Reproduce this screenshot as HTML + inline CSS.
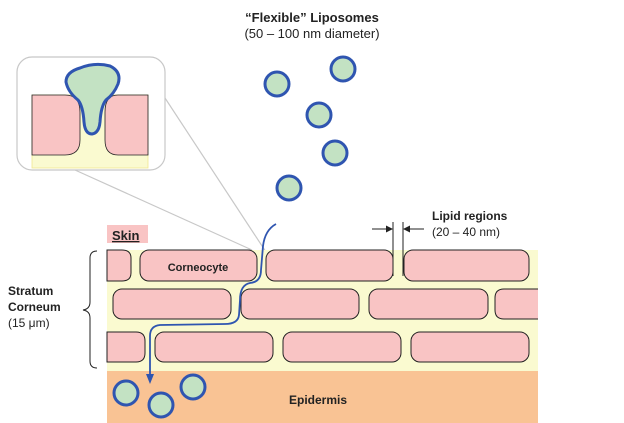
<!DOCTYPE html>
<html><head><style>
body{margin:0;background:#fff}
svg{display:block}
text{font-family:"Liberation Sans",Arial,sans-serif;fill:#222}
</style></head><body>
<svg width="624" height="423" viewBox="0 0 624 423" xmlns="http://www.w3.org/2000/svg">
<defs>
<g id="lip"><circle r="12" fill="#c3e2c3" stroke="#2f55b0" stroke-width="3"/></g>
</defs>
<text x="312" y="22" font-size="13" font-weight="bold" text-anchor="middle">“Flexible” Liposomes</text>
<text x="312" y="38" font-size="13" text-anchor="middle">(50 – 100 nm diameter)</text>
<!-- gray zoom lines -->
<line x1="165" y1="98" x2="266" y2="252" stroke="#c8c8c8" stroke-width="1.2"/>
<line x1="75" y1="170" x2="252" y2="250" stroke="#c8c8c8" stroke-width="1.2"/>
<!-- inset -->
<rect x="17" y="57" width="148" height="113" rx="15" fill="#fff" stroke="#c8c8c8" stroke-width="1.2"/>
<rect x="32" y="95" width="116" height="73" fill="#fafad0" stroke="#f0e890" stroke-width="0.8"/>
<path d="M32 95 H65 Q80 95 80 112 V140 Q80 155 65 155 H32 Z" fill="#f9c4c4" stroke="#222" stroke-width="0.8"/>
<path d="M148 95 H118 Q105 95 105 112 V140 Q105 155 118 155 H148 Z" fill="#f9c4c4" stroke="#222" stroke-width="0.8"/>
<path d="M80 68 Q95 62 110 66 Q122 72 118 84 Q114 94 106 100 Q101 106 100 122 Q99 133 92 134 Q85 134 84 122 Q83 106 78 100 Q68 92 66 82 Q66 72 80 68 Z" fill="#c3e2c3" stroke="#2f55b0" stroke-width="3"/>
<!-- liposomes -->
<use href="#lip" x="277" y="84"/>
<use href="#lip" x="343" y="69"/>
<use href="#lip" x="319" y="115"/>
<use href="#lip" x="335" y="153"/>
<use href="#lip" x="289" y="188"/>
<!-- stratum corneum -->
<rect x="107" y="250" width="431" height="121" fill="#fafad0"/>
<rect x="107" y="371" width="431" height="52" fill="#f9c394"/>
<g fill="#f9c4c4" stroke="#222" stroke-width="1">
<path d="M107 250 H122 Q131 250 131 258 V273 Q131 281 122 281 H107 Z"/>
<rect x="140" y="250" width="117" height="31" rx="9"/>
<rect x="266" y="250" width="127" height="31" rx="9"/>
<rect x="404" y="250" width="125" height="31" rx="9"/>
<rect x="113" y="289" width="118" height="30" rx="9"/>
<rect x="241" y="289" width="118" height="30" rx="9"/>
<rect x="369" y="289" width="119" height="30" rx="9"/>
<path d="M538 289 H504 Q495 289 495 298 V310 Q495 319 504 319 H538"/>
<path d="M107 332 H136 Q145 332 145 341 V353 Q145 362 136 362 H107 Z"/>
<rect x="155" y="332" width="118" height="30" rx="9"/>
<rect x="283" y="332" width="118" height="30" rx="9"/>
<rect x="411" y="332" width="118" height="30" rx="9"/>
</g>
<text x="198" y="271" font-size="11" font-weight="bold" text-anchor="middle">Corneocyte</text>
<text x="318" y="404" font-size="12" font-weight="bold" text-anchor="middle">Epidermis</text>
<rect x="107" y="225" width="41" height="18" fill="#f9c4c4"/>
<text x="112" y="240" font-size="13" font-weight="bold" text-decoration="underline">Skin</text>
<!-- lipid arrows -->
<line x1="393" y1="222" x2="393" y2="276" stroke="#222" stroke-width="1"/>
<line x1="403" y1="222" x2="403" y2="276" stroke="#222" stroke-width="1"/>
<line x1="372" y1="229" x2="389" y2="229" stroke="#222" stroke-width="1"/>
<path d="M393 229 L386 225.5 L386 232.5 Z" fill="#222"/>
<line x1="407" y1="229" x2="424" y2="229" stroke="#222" stroke-width="1"/>
<path d="M403 229 L410 225.5 L410 232.5 Z" fill="#222"/>
<text x="432" y="220" font-size="12" font-weight="bold">Lipid regions</text>
<text x="432" y="236" font-size="12">(20 – 40 nm)</text>
<!-- brace -->
<path d="M97 251 Q90 251 90 258 V302 Q90 309 83 310 Q90 311 90 318 V361 Q90 368 97 368" fill="none" stroke="#222" stroke-width="1"/>
<text x="8" y="295" font-size="12" font-weight="bold">Stratum</text>
<text x="8" y="311" font-size="12" font-weight="bold">Corneum</text>
<text x="8" y="327" font-size="12">(15 μm)</text>
<!-- path -->
<path d="M276 224 Q265 230 263 246 L261 270 Q261 282 250 283 Q240 285 240 300 L239 315 Q238 324 225 324 L160 325 Q150 326 150 336 L150 376" fill="none" stroke="#2f55b0" stroke-width="1.8"/>
<path d="M150 384 L146 374 L154 374 Z" fill="#2f55b0"/>
<use href="#lip" x="126" y="393"/>
<use href="#lip" x="161" y="405"/>
<use href="#lip" x="193" y="387"/>
</svg>
</body></html>
